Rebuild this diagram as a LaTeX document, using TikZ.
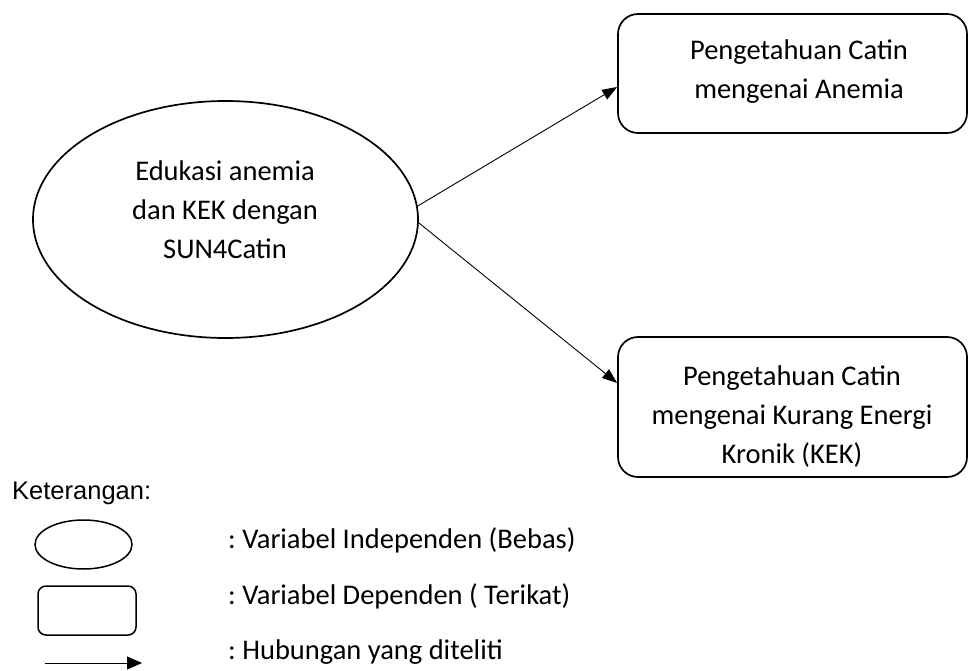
\documentclass[tikz,border=0pt]{standalone}
\usepackage{fontspec}
\setmainfont{Carlito}
\newfontfamily\arialfont{Liberation Sans}
\usetikzlibrary{shapes.geometric,arrows.meta,calc}
\frenchspacing
\begin{document}
\begin{tikzpicture}[x=1pt,y=-1pt,
  shapeline/.style={draw=black,line width=1.7pt},
  depbox/.style={shapeline,rounded corners=20pt,inner sep=0pt},
  indep/.style={shapeline,ellipse,inner sep=0pt},
  lbl/.style={font=\fontsize{28.5}{39}\selectfont,align=center,inner sep=0pt},
  legtext/.style={font=\fontsize{28.5}{39}\selectfont,anchor=west,inner sep=0pt},
  conn/.style={line width=0.9pt,-{Triangle[length=15pt,width=11pt]}}
]
\useasboundingbox (0,0) rectangle (971,671);
% main shapes
\node[indep,minimum width=385pt,minimum height=237pt] (ell) at (225.5,219.5) {};
\node[lbl] (ellt) at (225,210) {Edukasi anemia\\dan KEK dengan\\SUN4Catin};
\node[depbox,minimum width=349pt,minimum height=119pt] (top) at (792.5,73.5) {};
\node[lbl] (topt) at (799,71.5) {Pengetahuan Catin\\mengenai Anemia};
\node[depbox,minimum width=349pt,minimum height=140pt] (bot) at (792.5,407) {};
\node[lbl] (bott) at (792,417) {Pengetahuan Catin\\mengenai Kurang Energi\\Kronik (KEK)};
% connectors
\draw[conn] (ell.4) -- ($(top.west)+(0,13.5)$);
\draw[conn] (ell.-1) -- ($(bot.west)+(0,-24)$);
% legend
\node[anchor=west,inner sep=0pt,font=\arialfont\fontsize{25.5}{30}\selectfont] (ket) at (12,493) {Keterangan:};
\node[shapeline,ellipse,line width=1.5pt,minimum width=97pt,minimum height=49pt,inner sep=0pt] (legell) at (83.5,544.5) {};
\node[shapeline,line width=1.5pt,rounded corners=8pt,minimum width=98pt,minimum height=49pt,inner sep=0pt] (legbox) at (87,610.5) {};
\coordinate (la) at (45,663);
\coordinate (lb) at (142,663);
\draw[line width=0.9pt,-{Triangle[length=15pt,width=13pt]}] (la) -- (lb);
\node[legtext] (l1) at (228,540) {: Variabel Independen (Bebas)};
\node[legtext] (l2) at (228,596) {: Variabel Dependen ( Terikat)};
\node[legtext] (l3) at (228,652) {: Hubungan yang diteliti};
\end{tikzpicture}
\end{document}
